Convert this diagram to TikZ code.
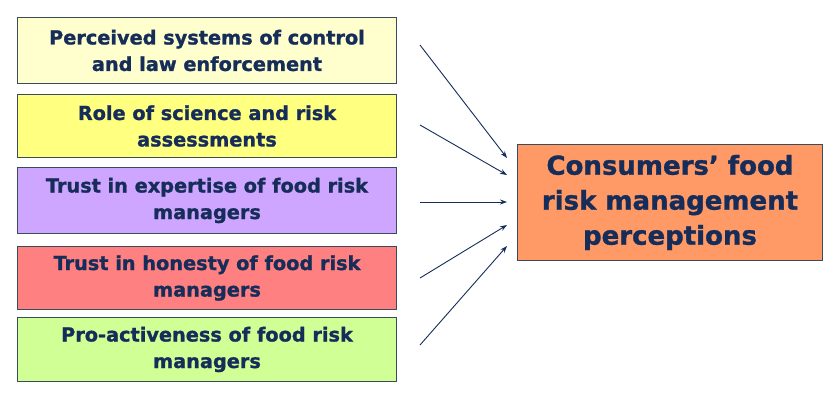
\documentclass[tikz,border=0pt]{standalone}
\usepackage{fontspec}
\setmainfont{DejaVu Sans}
\newfontfamily\heavy{DejaVu Sans Bold}[FakeBold=1.2]
\usetikzlibrary{arrows.meta}
\definecolor{txt}{RGB}{22,45,90}
\definecolor{bord}{RGB}{60,75,90}
\definecolor{c1}{RGB}{255,255,206}
\definecolor{c2}{RGB}{255,255,128}
\definecolor{c3}{RGB}{206,166,255}
\definecolor{c4}{RGB}{255,128,128}
\definecolor{c5}{RGB}{208,255,150}
\definecolor{c6}{RGB}{255,153,102}
\begin{document}
\begin{tikzpicture}[x=1pt,y=-1pt,
  lbox/.style={draw=bord,line width=1pt,minimum width=379pt,minimum height=64pt,inner sep=0pt,
    align=center,text=txt,font=\heavy\fontsize{19.3}{26.5}\selectfont,anchor=north west},
  rbox/.style={draw=bord,line width=1pt,minimum width=305pt,minimum height=116pt,inner sep=0pt,
    align=center,text=txt,font=\heavy\fontsize{26}{35}\selectfont,anchor=north west},
  arr/.style={-{Stealth[length=7pt,width=5pt]},draw=txt,line width=0.9pt}]
\useasboundingbox (0,0) rectangle (840,405);
\fill[white] (0,0) rectangle (840,405);
\node[lbox,fill=c1,minimum height=66pt] (b1) at (17,17) {Perceived systems of control\\and law enforcement};
\node[lbox,fill=c2,minimum height=63pt] (b2) at (17,94) {Role of science and risk\\assessments};
\node[lbox,fill=c3,minimum height=66pt] (b3) at (17,167) {Trust in expertise of food risk\\managers};
\node[lbox,fill=c4,minimum height=63pt] (b4) at (17,246) {Trust in honesty of food risk\\managers};
\node[lbox,fill=c5,minimum height=64pt] (b5) at (17,317) {Pro-activeness of food risk\\managers};
\node[rbox,fill=c6] (r) at (517,144) {Consumers’ food\\risk management\\perceptions};
\coordinate (s1) at (420,45);
\coordinate (s2) at (420,125);
\coordinate (s3) at (420,202);
\coordinate (s4) at (420,278);
\coordinate (s5) at (420,345);
\coordinate (e1) at (507,158);
\coordinate (e2) at (507,175);
\coordinate (e3) at (507,202);
\coordinate (e4) at (507,225);
\coordinate (e5) at (507,246);
\foreach \i in {1,...,5} \draw[arr] (s\i) -- (e\i);
\end{tikzpicture}
\end{document}
